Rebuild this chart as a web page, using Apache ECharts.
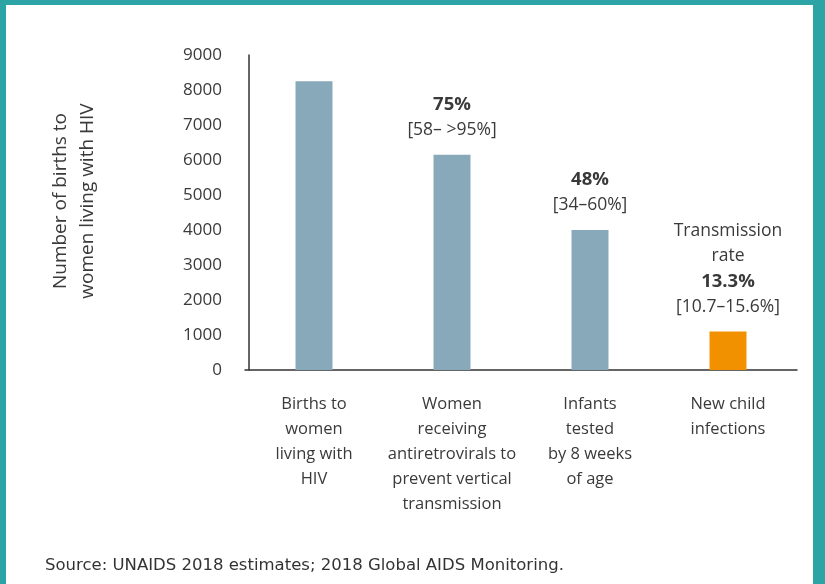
<!DOCTYPE html>
<html>
<head>
<meta charset="utf-8">
<title>Births to women living with HIV</title>
<script src="https://cdn.jsdelivr.net/npm/echarts@6/dist/echarts.min.js"></script>
<style>
  html, body { margin: 0; padding: 0; background: #ffffff; }
  #chart { width: 825px; height: 584px; }
</style>
</head>
<body>
<div id="chart"></div>
<script>
// Cascade categories and counts
const categories = [
  'Births to\nwomen\nliving with\nHIV',
  'Women\nreceiving\nantiretrovirals to\nprevent vertical\ntransmission',
  'Infants\ntested\nby 8 weeks\nof age',
  'New child\ninfections'
];
const births = [8250, 6150, 4000, 1100];

// Annotation text above each bar
const notePrefix = ['', '', '', 'Transmission\nrate'];
const notePct = ['', '75%', '48%', '13.3%'];
const noteRange = ['', '[58\u2013 >95%]', '[34\u201360%]', '[10.7\u201315.6%]'];

// Axis ticks
const yTicks = { min: 0, max: 9000, interval: 1000 };

const TEXT = '#3a3a3a';
const FONT = '"Open Sans", Lato, sans-serif';
const BAR = '#88a9ba';
const HIGHLIGHT = '#f29100';
const FRAME = '#2ca4a5';

function noteFor(i) {
  const parts = [];
  if (notePrefix[i]) notePrefix[i].split('\n').forEach(s => parts.push('{r|' + s + '}'));
  if (notePct[i]) parts.push('{b|' + notePct[i] + '}');
  if (noteRange[i]) parts.push('{r|' + noteRange[i] + '}');
  return parts.join('\n');
}

const seriesData = births.map((v, i) => ({
  value: v,
  itemStyle: { color: i === births.length - 1 ? HIGHLIGHT : BAR },
  label: {
    show: !!noteFor(i),
    formatter: noteFor(i)
  }
}));

const chart = echarts.init(document.getElementById('chart'), null, { renderer: 'canvas' });

chart.setOption({
  backgroundColor: '#ffffff',
  animation: false,
  textStyle: { fontFamily: FONT, color: TEXT },
  grid: { left: 245, right: 28, top: 55, bottom: 214, containLabel: false },
  xAxis: {
    type: 'category',
    data: categories,
    axisLine: { show: true, lineStyle: { color: '#333333', width: 1.5 } },
    axisTick: { show: false },
    axisLabel: {
      color: TEXT,
      fontFamily: FONT,
      fontSize: 16.5,
      lineHeight: 25,
      margin: 22,
      interval: 0
    }
  },
  yAxis: {
    type: 'value',
    min: yTicks.min,
    max: yTicks.max,
    interval: yTicks.interval,
    offset: -4,
    axisLine: { show: true, lineStyle: { color: '#333333', width: 1.5 } },
    axisTick: { show: false },
    splitLine: { show: false },
    axisLabel: {
      color: TEXT, fontFamily: FONT, fontSize: 17, margin: 27,
      formatter: v => String(v)
    }
  },
  series: [{
    type: 'bar',
    data: seriesData,
    barWidth: 37,
    label: {
      position: 'top',
      distance: 12,
      align: 'center',
      rich: {
        b: { fontFamily: FONT, fontSize: 18.5, fontWeight: 'bold', color: TEXT, lineHeight: 26 },
        r: { fontFamily: FONT, fontSize: 17.5, color: TEXT, lineHeight: 25 }
      }
    }
  }],
  graphic: [
    // frame
    { type: 'rect', left: 0, top: 0, shape: { width: 825, height: 5 }, style: { fill: FRAME }, silent: true },
    { type: 'rect', left: 0, top: 0, shape: { width: 6, height: 584 }, style: { fill: FRAME }, silent: true },
    { type: 'rect', left: 813, top: 0, shape: { width: 12, height: 584 }, style: { fill: FRAME }, silent: true },
    // y-axis title
    {
      type: 'text',
      x: 74, y: 201,
      rotation: Math.PI / 2,
      style: {
        text: 'Number of births to\nwomen living with HIV',
        fontFamily: FONT, fontSize: 19, lineHeight: 27,
        fill: TEXT, align: 'center', verticalAlign: 'middle'
      }
    },
    // source note
    {
      type: 'text',
      x: 45, y: 566,
      style: {
        text: 'Source: UNAIDS 2018 estimates; 2018 Global AIDS Monitoring.',
        fontFamily: '"DejaVu Sans", sans-serif', fontSize: 16.5,
        fill: '#333333', align: 'left', verticalAlign: 'middle'
      }
    }
  ]
});
</script>
</body>
</html>
